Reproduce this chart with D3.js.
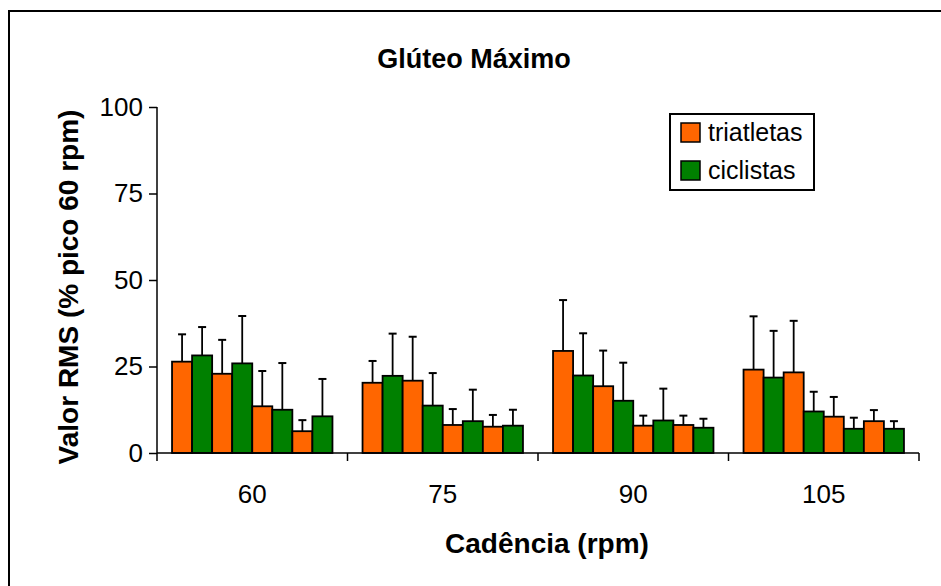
<!DOCTYPE html>
<html>
<head>
<meta charset="utf-8">
<script src="https://cdnjs.cloudflare.com/ajax/libs/d3/7.8.5/d3.min.js"></script>
<style>
    body { margin: 0; background: #fff; }
    svg { display: block; font-family: Arial, "Liberation Sans", sans-serif; }
</style>
</head>
<body>
<div id="chart"></div>
<script>
// Data (4 measures per cadence, alternating groups)
var cadencias = ["60", "75", "90", "105"];
var series = ["triatletas", "ciclistas"];
var triatletas = [[26.4, 22.9, 13.5, 6.3], [20.3, 20.9, 8.1, 7.6], [29.5, 19.3, 7.9, 8.1], [24.1, 23.3, 10.5, 9.2]];
var triatletasDP = [[7.9, 9.8, 10.2, 3.2], [6.3, 12.7, 4.6, 3.4], [14.7, 10.3, 2.9, 2.7], [15.4, 14.9, 5.7, 3.2]];
var ciclistas = [[28.2, 25.9, 12.5, 10.6], [22.3, 13.7, 9.2, 7.9], [22.4, 15.1, 9.4, 7.3], [21.8, 12.0, 7.0, 7.0]];
var ciclistasDP = [[8.2, 13.7, 13.5, 10.8], [12.2, 9.4, 9.1, 4.6], [12.2, 11.0, 9.2, 2.6], [13.5, 5.7, 3.2, 2.2]];
var yTicks = [0, 25, 50, 75, 100];

var width = 941,
    height = 586,
    colors = { triatletas: "#FF6600", ciclistas: "#008000" };

// Build flat bar list: per cadence, tri/cic pairs
var bars = [];
cadencias.forEach(function (c, i) {
    for (var k = 0; k < 4; k++) {
        bars.push({ cad: c, slot: k * 2, serie: "triatletas", value: triatletas[i][k], sd: triatletasDP[i][k] });
        bars.push({ cad: c, slot: k * 2 + 1, serie: "ciclistas", value: ciclistas[i][k], sd: ciclistasDP[i][k] });
    }
});

var svg = d3.select("#chart")
    .append("svg")
    .attr("width", width)
    .attr("height", height);

// Outer frame (cropped at right/bottom)
svg.append("rect")
    .attr("x", 9).attr("y", 11)
    .attr("width", 960).attr("height", 600)
    .attr("fill", "none")
    .attr("stroke", "#000")
    .attr("stroke-width", 2);

var plot = { left: 157, right: 919, top: 107, bottom: 453 };

// Scales
var x0 = d3.scaleBand()
    .domain(cadencias)
    .range([plot.left, plot.right])
    .padding(0);

var x1 = d3.scaleBand()
    .domain(d3.range(8))
    .range([0, x0.bandwidth()])
    .paddingInner(0)
    .paddingOuter(0.75);

var y = d3.scaleLinear()
    .domain([0, 100])
    .range([plot.bottom, plot.top]);

// Bars
var g = svg.append("g");

g.selectAll(".bar")
    .data(bars)
    .enter().append("rect")
    .attr("class", "bar")
    .attr("x", function (d) { return x0(d.cad) + x1(d.slot); })
    .attr("y", function (d) { return y(d.value); })
    .attr("width", x1.bandwidth())
    .attr("height", function (d) { return y(0) - y(d.value); })
    .attr("fill", function (d) { return colors[d.serie]; })
    .attr("stroke", "#000")
    .attr("stroke-width", 1.8);

// Error bars (upper only)
var err = g.selectAll(".err")
    .data(bars)
    .enter().append("g")
    .attr("class", "err")
    .attr("transform", function (d) { return "translate(" + (x0(d.cad) + x1(d.slot) + x1.bandwidth() / 2) + ",0)"; });

err.append("line")
    .attr("x1", 0).attr("x2", 0)
    .attr("y1", function (d) { return y(d.value); })
    .attr("y2", function (d) { return y(d.value + d.sd); })
    .attr("stroke", "#000")
    .attr("stroke-width", 1.8);

err.append("line")
    .attr("x1", -4).attr("x2", 4)
    .attr("y1", function (d) { return y(d.value + d.sd); })
    .attr("y2", function (d) { return y(d.value + d.sd); })
    .attr("stroke", "#000")
    .attr("stroke-width", 2);

// Left axis
var yAxis = svg.append("g")
    .attr("transform", "translate(" + plot.left + ",0)")
    .call(d3.axisLeft(y).tickValues(yTicks).tickSize(8).tickPadding(6));
yAxis.select(".domain").remove();
yAxis.append("line")
    .attr("x1", 0).attr("x2", 0)
    .attr("y1", plot.top).attr("y2", plot.bottom + 8)
    .attr("stroke", "#000").attr("stroke-width", 1.5);
yAxis.selectAll(".tick line").attr("stroke", "#000").attr("stroke-width", 1.5);
yAxis.selectAll(".tick text")
    .attr("font-size", "26px")
    .attr("font-family", "Arial, 'Liberation Sans', sans-serif")
    .attr("fill", "#000");

// Bottom axis: line + ticks at category boundaries
var xAxis = svg.append("g");
xAxis.append("line")
    .attr("x1", plot.left).attr("x2", plot.right)
    .attr("y1", plot.bottom).attr("y2", plot.bottom)
    .attr("stroke", "#000").attr("stroke-width", 1.5);
xAxis.selectAll(".xtick")
    .data(cadencias.slice(1).concat(["end"]))
    .enter().append("line")
    .attr("x1", function (d, i) { return x0(cadencias[i]) + x0.bandwidth(); })
    .attr("x2", function (d, i) { return x0(cadencias[i]) + x0.bandwidth(); })
    .attr("y1", plot.bottom).attr("y2", plot.bottom + 8)
    .attr("stroke", "#000").attr("stroke-width", 1.5);
xAxis.selectAll(".xlabel")
    .data(cadencias)
    .enter().append("text")
    .attr("x", function (d) { return x0(d) + x0.bandwidth() / 2; })
    .attr("y", 503)
    .attr("text-anchor", "middle")
    .attr("font-size", "26px")
    .text(function (d) { return d; });

// Titles
svg.append("text")
    .attr("x", 474).attr("y", 68)
    .attr("text-anchor", "middle")
    .attr("font-size", "27px")
    .attr("font-weight", "bold")
    .text("Glúteo Máximo");

svg.append("text")
    .attr("x", 547).attr("y", 553)
    .attr("text-anchor", "middle")
    .attr("font-size", "28px")
    .attr("font-weight", "bold")
    .text("Cadência (rpm)");

svg.append("text")
    .attr("transform", "translate(78,287) rotate(-90)")
    .attr("text-anchor", "middle")
    .attr("font-size", "28px")
    .attr("font-weight", "bold")
    .text("Valor RMS (% pico 60 rpm)");

// Legend
var legend = svg.append("g").attr("transform", "translate(670,114)");
legend.append("rect")
    .attr("width", 144).attr("height", 76)
    .attr("fill", "#fff")
    .attr("stroke", "#000")
    .attr("stroke-width", 2);

var item = legend.selectAll(".item")
    .data(series)
    .enter().append("g")
    .attr("transform", function (d, i) { return "translate(11," + (9 + i * 38) + ")"; });
item.append("rect")
    .attr("width", 19).attr("height", 19)
    .attr("fill", function (d) { return colors[d]; })
    .attr("stroke", "#000")
    .attr("stroke-width", 1.5);
item.append("text")
    .attr("x", 27).attr("y", 18)
    .attr("font-size", "25px")
    .text(function (d) { return d; });
</script>
</body>
</html>
